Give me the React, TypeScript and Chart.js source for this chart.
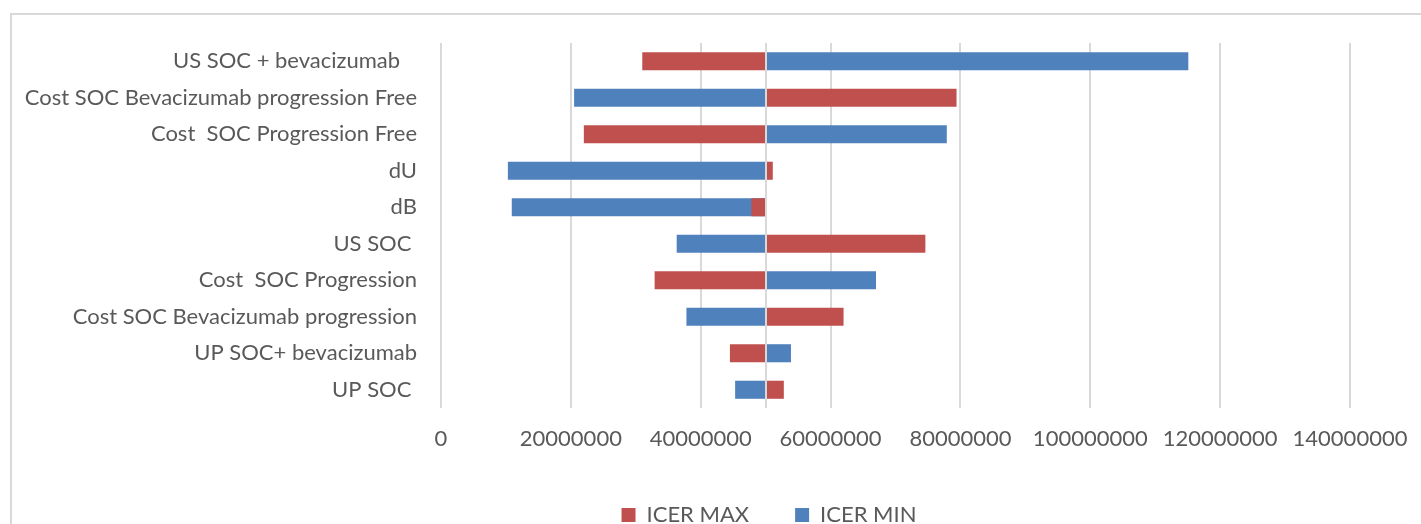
import React, { useEffect, useRef } from "react";
import { Chart, registerables } from "chart.js";

Chart.register(...registerables);

const categories = [
  "US SOC + bevacizumab   ",
  "Cost SOC Bevacizumab progression Free",
  "Cost  SOC Progression Free",
  "dU",
  "dB",
  "US SOC ",
  "Cost  SOC Progression",
  "Cost SOC Bevacizumab progression",
  "UP SOC+ bevacizumab",
  "UP SOC ",
];

const icerMax = [31000000, 79400000, 22000000, 51100000, 47800000, 74600000, 32900000, 62000000, 44500000, 52800000];
const icerMin = [115100000, 20500000, 77900000, 10300000, 10900000, 36300000, 67000000, 37800000, 53900000, 45300000];

const baseValue = 50000000;
const xTicks = [0, 20000000, 40000000, 60000000, 80000000, 100000000, 120000000, 140000000];

const CANVAS_W = 1421;
const CANVAS_H = 536;
const FONT = "Lato, 'Open Sans', sans-serif";
const FONT_SIZE = 22;
const TEXT = "#595959";
const GRID = "#d9d9d9";

export default function App() {
  const ref = useRef<HTMLCanvasElement>(null);

  useEffect(() => {
    if (!ref.current) return;
    const baseLine = {
      id: "baseLine",
      afterDatasetsDraw(chart: any) {
        const { ctx, chartArea, scales } = chart;
        const x = Math.round(scales.x.getPixelForValue(baseValue));
        ctx.save();
        ctx.strokeStyle = GRID;
        ctx.lineWidth = 2;
        ctx.beginPath();
        ctx.moveTo(x, chartArea.top);
        ctx.lineTo(x, chartArea.bottom);
        ctx.stroke();
        ctx.restore();
      },
    };
    // Excel centres the legend on its (wider) chart object; shift the legend block accordingly.
    const legendShift = {
      id: "legendShift",
      afterLayout(chart: any) {
        const lg = chart.legend;
        if (lg) {
          lg.left += 94;
          lg.right += 94;
        }
      },
    };

    const chart = new Chart(ref.current, {
      type: "bar",
      data: {
        labels: categories,
        datasets: [
          {
            label: "ICER MAX",
            data: icerMax.map((v) => [baseValue, v]),
            backgroundColor: "#C0504D",
            borderWidth: 0,
          },
          {
            label: "ICER MIN",
            data: icerMin.map((v) => [baseValue, v]),
            backgroundColor: "#4F81BD",
            borderWidth: 0,
          },
        ] as any,
      },
      options: {
        indexAxis: "y",
        responsive: false,
        animation: false,
        layout: { padding: { top: 43, right: CANVAS_W - 1350, left: 0, bottom: 0 } },
        datasets: {
          bar: { grouped: false, categoryPercentage: 1, barPercentage: 0.495 },
        } as any,
        scales: {
          x: {
            type: "linear",
            min: 0,
            max: 140000000,
            afterBuildTicks: (s: any) => {
              s.ticks = xTicks.map((v) => ({ value: v }));
            },
            afterFit: (s: any) => {
              s.height = 50;
              s.paddingLeft = 0;
              s.paddingRight = 0;
            },
            ticks: {
              font: { family: FONT, size: FONT_SIZE },
              color: TEXT,
              padding: 18,
              maxRotation: 0,
              callback: (v: any) => String(v),
            },
            grid: { color: GRID, lineWidth: 2, drawTicks: false },
            border: { display: false },
          },
          y: {
            afterFit: (s: any) => {
              s.width = 441;
            },
            ticks: {
              font: { family: FONT, size: FONT_SIZE },
              color: TEXT,
              padding: 16,
              autoSkip: false,
            },
            grid: { display: false },
            border: { display: false },
          },
        },
        plugins: {
          legend: {
            position: "bottom",
            labels: {
              font: { family: FONT, size: FONT_SIZE },
              color: TEXT,
              boxWidth: 14,
              boxHeight: 14,
              padding: 46,
            },
          },
          tooltip: { enabled: false },
        },
      } as any,
      plugins: [baseLine, legendShift],
    });
    return () => chart.destroy();
  }, []);

  return (
    <div
      style={{
        position: "fixed",
        left: 0,
        top: 0,
        width: 1421,
        height: 524,
        overflow: "hidden",
        background: "#ffffff",
      }}
    >
      <canvas
        ref={ref}
        width={CANVAS_W}
        height={CANVAS_H}
        style={{ position: "absolute", left: 0, top: 0 }}
      />
      <div
        style={{
          position: "absolute",
          left: 10,
          top: 13,
          width: 1700,
          height: 800,
          border: "2px solid #d9d9d9",
          pointerEvents: "none",
        }}
      />
    </div>
  );
}
